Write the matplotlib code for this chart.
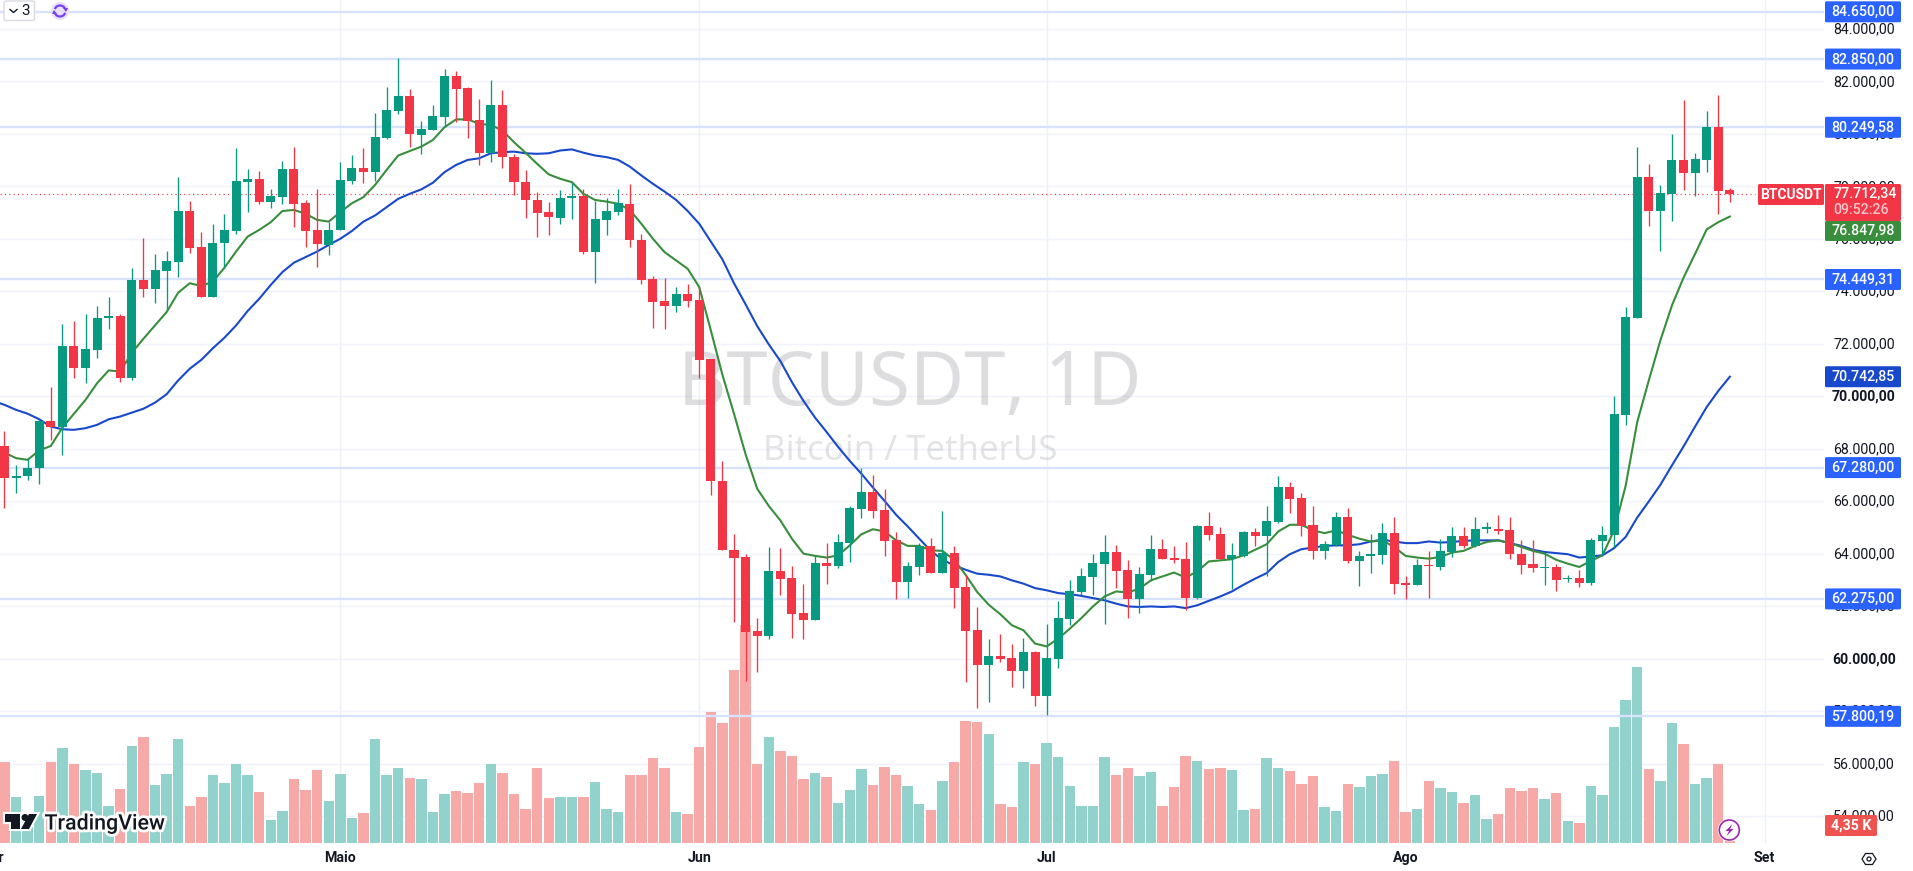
import matplotlib
matplotlib.use("Agg")
import matplotlib.pyplot as plt
import matplotlib.patheffects as pe
from matplotlib.patches import Polygon, Ellipse, FancyBboxPatch, Arc
from matplotlib.transforms import Affine2D

opens = [68106,66899,66941,67280,69037,68825,71915,71069,71767,72974,73058,70708,74433,74095,74772,75132,77058,75682,73777,75830,76296,78179,78285,77396,77608,78666,77375,76338,75767,
76317,78200,78709,78539,79851,80867,81439,79957,80148,80634,82201,81756,80529,79280,81100,79111,78158,77481,77015,76804,77545,77629,75492,76719,77036,77333,75957,74476,73629,73439,73904,
73671,71428,66772,64147,63873,61058,60867,63343,63068,61735,61481,63640,63534,64402,65714,66349,65671,64528,62920,63492,64296,63259,64021,62729,61100,59767,60106,60021,59534,60254,
58582,60000,61524,62539,63111,63619,64063,63386,62285,63195,64190,63830,63809,62306,65058,64761,63809,63915,64825,64677,65206,66539,66116,65100,64105,64338,65397,63725,63894,63957,64782,
62878,62814,63576,63492,64063,64677,64296,64952,64952,64910,64000,63619,63450,63492,63026,63068,62878,64486,64698,69291,72995,78349,77058,77714,79005,78518,79005,80253,77862]
highs = [68677,67365,67640,69079,70348,72761,72868,73143,73439,73777,73143,74899,76041,75428,75534,78349,77439,76253,76571,76952,79470,78666,78582,77904,78963,79492,77481,77904,76634,
78920,79196,79470,80804,81777,82878,81714,80486,81100,82476,82391,81777,81333,82052,81671,79217,78624,77799,77396,77841,78179,77904,77439,77566,77904,78095,76190,74582,74518,74158,74285,
74158,71428,67534,64761,64000,61545,64253,64211,63534,62857,63936,64402,64761,65820,67280,67005,66455,64825,63682,64402,64592,65629,64296,63195,61968,60762,60952,60571,60783,60296,
61333,62201,62983,63450,64000,64719,64338,63767,63492,64719,64550,64296,64444,65100,65587,65015,64402,64867,64973,65820,66963,66730,66307,65820,64486,65587,65735,64084,64761,65164,65397,
63153,63788,64105,64571,65015,65015,65397,65206,65481,65397,64528,64528,64042,63598,63174,63386,64592,65058,70010,73396,79492,78857,78052,80000,81291,79280,80867,81481,77947]
lows = [65735,66307,66794,66645,68317,67746,70708,70497,71450,72550,70539,70602,73798,73544,73333,74560,75470,73777,73777,74899,76168,77015,77312,77164,77333,76465,75703,74941,75365,
76317,78073,78116,78200,79809,80761,79492,79217,80148,80275,80444,79851,78793,78920,78687,77650,76782,76084,76147,76550,76740,75407,74306,76126,76909,75682,74264,72613,72550,73206,73396,
70708,66222,64126,61397,59153,59492,60762,62434,60783,60762,61481,62857,63450,63682,65354,65354,63915,62285,62306,63195,63259,63259,61926,59111,58116,58349,59873,58920,58899,58201,
57841,59640,61270,62412,62434,61333,62687,61566,61735,62963,63809,63640,61841,62285,64507,63788,62666,63873,64275,63132,65164,65544,64655,63788,63809,64296,63640,62751,63259,63619,62476,
62285,62793,62306,63365,63873,64211,64253,64782,64761,63809,63238,63301,62814,62560,62920,62729,62793,63936,64253,68910,72995,76486,75534,76677,77862,77629,78539,76931,77396]
closes = [66899,66941,67280,69058,68825,71915,71069,71809,72995,73058,70708,74433,74095,74814,75153,77058,75661,73777,75851,76338,78200,78264,77396,77629,78666,77333,76296,75788,76338,
78243,78709,78539,79873,80910,81439,79978,80190,80677,82201,81714,80486,79280,81100,79111,78158,77460,76994,76825,77566,77629,75492,76761,77058,77354,75936,74433,73587,73439,73904,73629,
71385,66751,64126,63830,61016,60867,63343,63047,61714,61481,63640,63534,64444,65735,66349,65629,64486,62920,63534,64296,63259,64042,62687,61058,59767,60106,60000,59534,60254,58582,
60021,61545,62581,63153,63640,64063,63343,62285,63238,64190,63809,63746,62306,65058,64719,63809,63957,64825,64677,65248,66539,66095,65037,64105,64380,65397,63725,63915,64000,64782,62857,
62814,63576,63513,64105,64677,64296,64952,64994,64867,63979,63576,63450,63492,63005,63068,62878,64528,64698,69333,73016,78349,77058,77756,79005,78518,79047,80253,77820,77712]
volumes = [18.6,12.3,6.8,12.5,18.6,21.1,18.3,17.2,16.6,10.7,13.8,21.5,23.1,14.5,16.5,22.8,10.7,12.3,16.3,14.8,18.3,16.3,13.2,8.2,9.8,15.6,13.6,17.2,11.6,
16.5,8.5,9.4,22.8,16.3,17.5,15.7,15.6,9.6,12.9,13.4,13.0,14.8,18.3,16.6,12.9,10.2,17.5,12.1,12.3,12.3,12.3,15.0,10.2,9.6,16.3,16.3,19.3,17.5,9.6,9.3,
21.3,27.6,25.6,35.2,43.3,18.3,23.1,20.6,19.7,15.6,16.6,15.9,11.2,13.6,17.4,14.5,17.7,16.3,14.3,11.1,10.0,15.2,18.6,26.0,25.8,23.7,11.1,10.5,18.6,18.3,
22.0,19.5,14.3,10.7,10.7,19.5,16.3,17.5,16.1,16.8,10.7,14.1,19.7,18.8,17.4,17.5,17.2,10.0,10.2,19.3,17.5,17.0,14.7,16.1,10.5,9.8,14.7,14.1,16.1,16.5,18.8,
9.6,10.2,15.2,13.9,13.2,11.2,12.7,8.4,9.3,13.9,13.4,13.9,12.0,13.0,8.0,7.6,14.3,12.7,24.9,29.8,35.7,17.4,15.2,25.6,21.9,14.7,15.7,18.3,4.35]
ma_fast = [67950,67851,67640,67576,67936,68105,68804,69333,69862,70497,70984,70941,71661,72190,72697,73206,73946,74306,74200,74370,74899,75513,76084,76338,76634,77058,77100,76952,76719,76655,
77015,77354,77587,78052,78624,79174,79343,79513,79767,80253,80550,80550,80381,80338,80127,79682,79280,78857,78455,78285,78158,77714,77481,77417,77333,77100,76571,76000,75492,75174,74857,
74158,72507,70814,69333,67788,66476,65820,65270,64571,64000,63915,63851,63936,64317,64740,64931,64846,64507,64296,64296,64127,64105,63767,63195,62539,62052,61692,61270,61079,60571,
60465,60762,61142,61545,61989,62370,62560,62518,62666,62983,63132,63280,63090,63323,63703,63746,63788,63936,64148,64359,64846,65100,65100,64888,64782,64888,64719,64571,64465,64507,64253,
63915,63851,63809,63873,64042,64105,64296,64444,64507,64402,64253,64105,64000,63767,63619,63492,63725,63936,64888,66582,69015,70602,72127,73460,74518,75428,76359,76634,76848]
ma_slow = [69820,69672,69481,69333,69121,68846,68740,68719,68782,68909,69121,69227,69375,69523,69756,70074,70603,71047,71386,71830,72232,72698,73248,73714,74243,74730,75090,75301,75513,75767,
76000,76296,76655,76888,77206,77523,77714,77883,78137,78539,78814,79005,79068,79259,79301,79322,79259,79238,79259,79365,79407,79280,79174,79111,79005,78751,78412,78095,77799,77481,77058,
76571,75893,75216,74306,73502,72676,71978,71343,70539,69820,69185,68634,68063,67534,67047,66518,66010,65481,65036,64571,64105,63767,63555,63386,63238,63195,63132,62983,62857,62687,
62603,62497,62455,62391,62306,62222,62095,61989,61968,61989,61968,61989,61926,62031,62201,62370,62560,62814,63047,63259,63682,63979,64169,64232,64296,64317,64317,64359,64465,64528,64465,
64402,64402,64465,64422,64444,64486,64507,64507,64507,64402,64296,64148,64063,64021,63979,63851,63894,63936,64211,64635,65375,65989,66624,67365,68084,68846,69587,70201,70743]
level_prices = [84650.00, 82850.00, 80249.58, 74449.31, 67280.00, 62275.00, 57800.19]
level_labels = ["84.650,00", "82.850,00", "80.249,58", "74.449,31", "67.280,00", "62.275,00", "57.800,19"]
price_ticks = [84000,82000,80000,78000,76000,74000,72000,70000,68000,66000,64000,62000,60000,58000,56000,54000]
month_days = [-30, 0, 31, 61, 92, 123]
month_labels = ["Abr", "Maio", "Jun", "Jul", "Ago", "Set"]
last_price = 77712.34
fast_last = 76847.98
slow_last = 70742.85

n = len(opens)
days = list(range(-29, -29+n))
ma_days = list(range(-30, -29+n))

W, H = 1913, 871
PLOT_W, PLOT_H = 1824, 843
YTOP, YBOT = 85100, 52973
XL, XR = -29.387, 128.13
GREEN, RED = "#089981", "#F23645"
VGREEN, VRED = "#92D2CC", "#F7A9A7"
plt.rcParams["font.family"] = ["Roboto", "DejaVu Sans"]
fig = plt.figure(figsize=(W/100, H/100), dpi=100, facecolor="white")
ax = fig.add_axes([0, (H-PLOT_H)/H, PLOT_W/W, PLOT_H/H])
ax.set_xlim(XL, XR)
ax.set_ylim(YBOT, YTOP)
for s in ax.spines.values():
    s.set_visible(False)
ax.set_xticks([]); ax.set_yticks([])
vax = ax.twinx()
vax.set_ylim(4.0, 155.8)
vax.set_yticks([])
for s in vax.spines.values():
    s.set_visible(False)
ax.set_zorder(2); vax.set_zorder(1)
ax.patch.set_visible(False)

px = Affine2D().scale(1/W, -1/H).translate(0, 1) + fig.transFigure
def ypx(p):
    return (YTOP-p)/(YTOP-YBOT)*PLOT_H

# grid (under the volume bars)
for t in price_ticks:
    vax.plot([XL, XR], [4+(t-YBOT)/(YTOP-YBOT)*151.8]*2, color="#F0F3FA", lw=1, zorder=0.5)
for d in month_days[1:]:
    vax.axvline(d, color="#EEF0F5", lw=1, zorder=0.5)
vax.set_xlim(XL, XR)

# watermark
ax.text(910, 385, "BTCUSDT, 1D", transform=px, ha="center", va="center", fontsize=53.5, color="#787B86", alpha=0.25,
        family="Noto Sans", zorder=1.5)
ax.text(910, 451, "Bitcoin / TetherUS", transform=px, ha="center", va="center", fontsize=25, color="#787B86", alpha=0.2,
        family="Noto Sans", zorder=1.5)

# volume
vcol = [VGREEN if c >= o else VRED for o, c in zip(opens, closes)]
vax.bar(days, volumes, width=0.9, color=vcol, linewidth=0, zorder=1)

# levels
for p in level_prices:
    ax.axhline(p, color="#D7E3FA", lw=1.7, zorder=2)
ax.plot([XL, 122.2], [last_price]*2, color=RED, lw=0.9, dashes=(0.9, 2.6), zorder=2.2)

# moving averages
ax.plot(ma_days, ma_slow, color="#1848CC", lw=1.5, zorder=3, solid_joinstyle="round")
ax.plot(ma_days, ma_fast, color="#388E3C", lw=1.5, zorder=3.1, solid_joinstyle="round")

# candles
for d, o, h, l, c in zip(days, opens, highs, lows, closes):
    col = GREEN if c >= o else RED
    ax.vlines(d, l, h, color=col, lw=0.95, zorder=4)
    ax.bar(d, max(abs(c-o), 45), bottom=min(o, c), width=0.78, color=col, linewidth=0, zorder=4.1)

# price scale ticks (value labels sit above them)
for t in price_ticks:
    bold = t in (70000, 60000)
    fig.text(1864/W, 1-(ypx(t)+0.5)/H, f"{t//1000}.000,00", ha="center", va="center", fontsize=10.2,
             color="#131722", fontweight="bold" if bold else "normal", zorder=5)

def box(x0, x1, y0, y1, color):
    fig.add_artist(FancyBboxPatch((x0+1, y0+1), x1-x0-2, y1-y0-2, boxstyle="round,pad=1,rounding_size=1.5", transform=px,
                                  facecolor=color, edgecolor="none", zorder=6))
def label(x, y, s, color="white", weight="medium", size=10.2):
    fig.text(x/W, 1-y/H, s, ha="center", va="center", fontsize=size, color=color, fontweight=weight, zorder=7)

for p, s in zip(level_prices, level_labels):
    y = ypx(p)
    box(1825, 1901, y-10.5, y+10.5, "#2962FF")
    label(1863, y+0.5, s)
y = ypx(slow_last)
box(1825, 1901, y-10.5, y+10.5, "#1848CC"); label(1863, y+0.5, "70.742,85")
box(1825, 1901, 184, 221, RED)
label(1865, 194, "77.712,34"); label(1861, 210, "09:52:26", color="#FBC6CB")
box(1825, 1901, 221, 241, "#388E3C"); label(1863, 230.5, "76.847,98")
box(1758, 1824, 184, 205, RED); label(1791, 195, "BTCUSDT", weight="bold", size=10)
box(1825, 1877, 815, 836, "#EF5350"); label(1851, 825.5, "4,35 K", weight="bold")

# time axis
for d, s in zip(month_days, month_labels):
    x = (d - XL)/(XR - XL)*PLOT_W
    fig.text(x/W, 1-858/H, s, ha="center", va="center", fontsize=10.2, color="#131722", fontweight="bold")

# overlays
fig.add_artist(FancyBboxPatch((4, 1), 30.5, 19.5, boxstyle="round,pad=0,rounding_size=2", transform=px,
                              facecolor="white", edgecolor="#D9DBE1", lw=1, zorder=8))
fig.add_artist(plt.Line2D([10, 13.5, 17], [9.5, 12.5, 9.5], transform=px, color="#131722", lw=1, zorder=9))
fig.text(26/W, 1-11/H, "3", ha="center", va="center", fontsize=11, color="#131722", zorder=9)
fig.add_artist(Ellipse((60, 11), 18, 18, transform=px, facecolor="#E6E0FA", edgecolor="none", zorder=8))
fig.add_artist(Arc((60, 11), 11, 11, theta1=20, theta2=160, transform=px, edgecolor="#7B3FF2", lw=1.6, zorder=9))
fig.add_artist(Arc((60, 11), 11, 11, theta1=200, theta2=340, transform=px, edgecolor="#7B3FF2", lw=1.6, zorder=9))
fig.add_artist(Polygon([(63, 8), (68, 8), (66, 12)], transform=px, facecolor="#7B3FF2", edgecolor="none", zorder=9))
fig.add_artist(Polygon([(52, 14), (57, 14), (54, 10)], transform=px, facecolor="#7B3FF2", edgecolor="none", zorder=9))

halo = [pe.withStroke(linewidth=4, foreground="white")]
fig.text(44.5/W, 1-824/H, "TradingView", ha="left", va="center", fontsize=15.4, fontweight="medium", color="#131722",
         zorder=9, path_effects=halo)
logo_t = [(5, 814), (20, 814), (20, 829), (11, 829), (11, 822), (5, 822)]
logo_s = [(21, 829), (29, 814), (37, 814), (29, 829)]
for pts in (logo_t, logo_s):
    fig.add_artist(Polygon(pts, closed=True, transform=px, facecolor="white", edgecolor="white", lw=3, zorder=8.9))
for pts in (logo_t, logo_s):
    fig.add_artist(Polygon(pts, closed=True, transform=px, facecolor="#131722", edgecolor="none", zorder=9.1))
fig.add_artist(Ellipse((25, 817.5), 7, 7, transform=px, facecolor="#131722", edgecolor="none", zorder=9.1))

fig.add_artist(Ellipse((1729.3, 830), 23, 23, transform=px, facecolor="white", edgecolor="none", zorder=8.9))
fig.add_artist(Ellipse((1729.3, 830), 20, 20, transform=px, facecolor="white", edgecolor="#9C27B0", lw=1.2, zorder=9))
fig.add_artist(Polygon([(1732.5, 824), (1725.5, 831), (1729, 831), (1726.5, 836), (1733.5, 829), (1730, 829)], closed=True,
                       transform=px, facecolor="#9C27B0", edgecolor="none", zorder=10))
fig.add_artist(Polygon([(1862, 859), (1865.5, 853.5), (1872.5, 853.5), (1876, 859), (1872.5, 864.5), (1865.5, 864.5)], closed=True,
                       transform=px, facecolor="white", edgecolor="#131722", lw=0.9, zorder=9))
fig.add_artist(Ellipse((1869, 859), 4, 4, transform=px, facecolor="white", edgecolor="#131722", lw=0.9, zorder=10))

fig.savefig("out.png", dpi=100)
